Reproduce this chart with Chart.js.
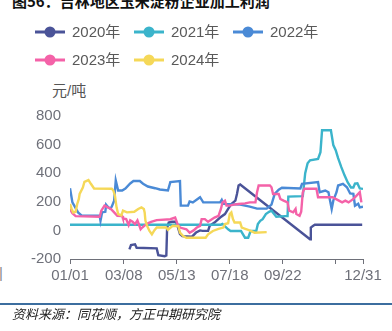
<!DOCTYPE html>
<html>
<head>
<meta charset="utf-8">
<script src="https://cdn.jsdelivr.net/npm/chart.js@4/dist/chart.umd.min.js"></script>
<style>
  body { margin: 0; background: #fff; }
  #wrap { position: relative; width: 392px; height: 331px; overflow: hidden; }
  #chart { position: absolute; left: 0; top: 0; }
  .txt { position: absolute; white-space: nowrap; }
  #title { left: 12px; top: -7px; font: bold 15px/15px "Noto Sans CJK SC", sans-serif; color: #111; }
  #unit { left: 52px; top: 83px; font: 15px/15px "Liberation Sans", "Noto Sans CJK SC", sans-serif; color: #555; }
  #stray { left: -1px; top: 265px; font: 15px/15px "Liberation Sans", sans-serif; color: #8a8a8a; }
  #rule { position: absolute; left: 0; top: 303px; width: 392px; height: 2px; background: #3c6e9f; }
  #source { left: 12px; top: 307px; font: italic 13px/13px "Noto Sans CJK SC", sans-serif; color: #222; }
</style>
</head>
<body>
<div id="wrap">
  <div class="txt" id="title">图56：吉林地区玉米淀粉企业加工利润</div>
  <div class="txt" id="unit">元/吨</div>
  <div class="txt" id="stray">|</div>
  <canvas id="chart" width="392" height="331"></canvas>
  <div id="rule"></div>
  <div class="txt" id="source">资料来源：同花顺，方正中期研究院</div>
</div>
<script>
// x = day of year (0 = 01/01, 365 = 12/31)
const xTickDays = [0, 67, 133, 199, 265, 331, 365];
const xTickLabels = ['01/01', '03/08', '05/13', '07/18', '09/22', '', '12/31'];
const yTicks = [-200, 0, 200, 400, 600, 800];

const seriesNames = ['2020年', '2021年', '2022年', '2023年', '2024年'];
const seriesColors = ['#4a5398', '#3bb4cb', '#4a8ad6', '#f462a8', '#f5d858'];

const days2020 = [74,76,81,83,108,110,118,120,121,123,127,132,134,137,140,152,157,162,165,172,174,180,187,193,197,201,206,208,210,212,299,300,303,305,364];
const vals2020 = [-133,-102,-97,-121,-126,-173,-180,-175,20,55,60,60,30,-25,-40,-44,-15,0,-3,-3,32,55,90,114,150,185,208,255,314,321,-62,20,32,39,39];

const days2021 = [0,188,190,197,200,213,218,222,225,232,234,237,240,244,248,251,257,268,271,272,290,293,296,299,309,312,314,325,328,331,334,338,342,346,350,353,355,358,361,365];
const vals2021 = [40,40,45,8,-4,-4,-51,-51,-4,-4,44,67,79,114,130,138,95,100,100,236,240,400,470,490,500,547,700,700,597,561,505,442,385,335,300,300,328,330,293,290];

const days2022 = [0,3,6,10,15,37,38,40,44,45,47,50,52,55,57,60,65,69,75,79,87,91,97,106,112,122,125,137,138,147,149,153,159,162,166,187,189,191,212,224,233,245,251,255,260,264,287,289,309,311,318,322,324,326,328,332,334,340,345,349,353,355,359,361,365];
const vals2022 = [295,196,166,126,102,102,67,126,130,180,166,152,166,208,350,279,279,293,328,345,345,326,307,295,286,279,338,345,173,173,203,196,220,232,196,196,213,185,180,166,152,152,180,255,284,298,293,326,338,267,279,267,208,150,208,267,314,326,302,258,255,173,187,161,166];

const days2023 = [0,3,7,37,39,43,47,51,55,59,65,66,70,73,75,78,81,84,88,90,95,101,108,125,131,134,137,145,149,154,158,162,164,168,172,180,185,188,190,193,195,199,204,210,218,224,231,233,235,249,251,253,260,262,266,271,273,278,281,282,286,288,290,292,307,309,327,335,339,343,347,353,357,361,363];
const vals2023 = [150,120,100,95,138,173,161,150,126,102,100,83,79,37,70,60,44,70,8,20,44,60,72,78,90,44,20,8,-16,0,20,32,79,79,60,90,102,150,196,208,173,173,180,185,189,196,196,267,314,314,302,255,255,220,208,196,138,126,150,114,102,130,267,291,291,232,232,208,196,208,196,220,243,267,196];

const days2024 = [0,2,4,7,9,11,12,16,18,23,26,30,52,54,56,58,60,64,66,71,80,85,89,92,93,94,96,99,102,105,108,120,122,128,135,137,141,145,169,172,178,185,191,193,197,199,201,203,205,212,214,220,225,230,245];
const vals2024 = [185,150,125,130,185,220,255,300,340,352,326,293,291,279,243,161,114,105,138,126,130,150,161,150,126,67,32,-4,-27,0,20,20,5,32,30,-16,-39,-51,-51,-27,-4,10,20,44,50,114,126,79,55,55,20,8,-4,-16,-12];

const allDays = [days2020, days2021, days2022, days2023, days2024];
const allVals = [vals2020, vals2021, vals2022, vals2023, vals2024];

const axisGrey = '#6e7079';
const tickFont = { family: '"Liberation Sans", "Noto Sans CJK SC", sans-serif', size: 15 };

// legend: short line with a dot, 3 per row
const lineLegend = {
  id: 'lineLegend',
  afterDraw(chart) {
    const ctx = chart.ctx;
    chart.data.datasets.forEach((ds, i) => {
      const x = 35 + (i % 3) * 99;
      const y = 32 + Math.floor(i / 3) * 28;
      ctx.save();
      ctx.strokeStyle = ds.borderColor;
      ctx.lineWidth = 3;
      ctx.beginPath();
      ctx.moveTo(x, y);
      ctx.lineTo(x + 30, y);
      ctx.stroke();
      ctx.fillStyle = ds.borderColor;
      ctx.beginPath();
      ctx.arc(x + 15, y, 5.5, 0, Math.PI * 2);
      ctx.fill();
      ctx.fillStyle = '#595959';
      ctx.font = '15px "Liberation Sans", "Noto Sans CJK SC", sans-serif';
      ctx.textBaseline = 'middle';
      ctx.fillText(ds.label, x + 37, y + 1);
      ctx.restore();
    });
  }
};

const datasets = seriesNames.map((name, i) => ({
  label: name,
  data: allDays[i].map((d, k) => ({ x: d, y: allVals[i][k] })),
  borderColor: seriesColors[i],
  backgroundColor: seriesColors[i],
  borderWidth: 2.4,
  pointRadius: 0,
  tension: 0,
  order: seriesNames.length - i
}));

new Chart(document.getElementById('chart'), {
  type: 'line',
  data: { datasets: datasets },
  options: {
    responsive: false,
    animation: false,
    layout: { padding: { top: 116, right: 29, left: 0, bottom: 0 } },
    plugins: { legend: { display: false }, tooltip: { enabled: false } },
    scales: {
      x: {
        type: 'linear',
        min: 0,
        max: 365,
        afterBuildTicks: s => { s.ticks = xTickDays.map(v => ({ value: v })); },
        afterFit: s => { s.height = 72; },
        grid: { display: true, drawOnChartArea: false, tickLength: 5, color: axisGrey },
        border: { display: true, color: axisGrey, width: 1 },
        ticks: {
          autoSkip: false,
          maxRotation: 0,
          padding: 3,
          color: axisGrey,
          font: tickFont,
          callback: (v, i) => xTickLabels[i]
        }
      },
      y: {
        min: -200,
        max: 800,
        afterBuildTicks: s => { s.ticks = yTicks.map(v => ({ value: v })); },
        afterFit: s => { s.width = 70; },
        grid: { display: false, drawTicks: false },
        border: { display: false },
        ticks: { padding: 9, color: axisGrey, font: tickFont }
      }
    }
  },
  plugins: [lineLegend]
});
</script>
</body>
</html>
